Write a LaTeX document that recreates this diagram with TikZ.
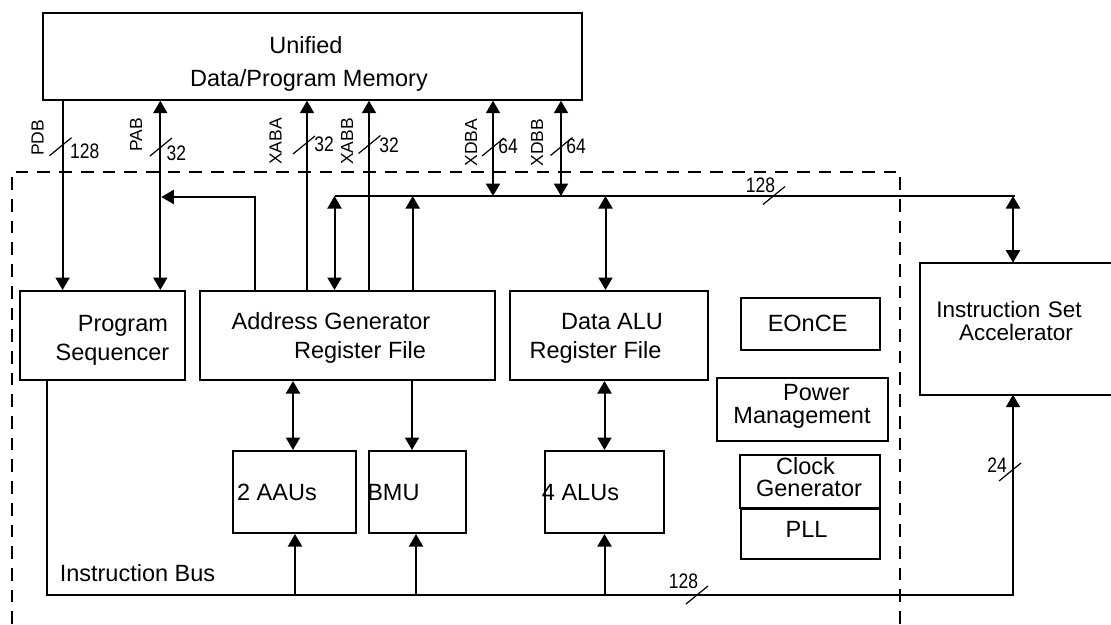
\documentclass[tikz,border=0pt]{standalone}
\usepackage{fontspec}
\setmainfont{Liberation Sans}
\usetikzlibrary{arrows.meta}
\begin{document}
\begin{tikzpicture}[x=1pt,y=-1pt,
  box/.style={draw,line width=2pt,rectangle,inner sep=0pt,anchor=north west},
  conn/.style={line width=2pt},
  arr/.style={conn,-{Triangle[length=12.5pt,width=14pt]}},
  darr/.style={conn,{Triangle[length=12.5pt,width=14pt]}-{Triangle[length=12.5pt,width=14pt]}},
  txt/.style={font=\fontsize{23.5}{28}\selectfont,inner sep=0pt,anchor=base},
  txtsm/.style={font=\fontsize{22.5}{26}\selectfont,inner sep=0pt,anchor=base},
  sig/.style={font=\fontsize{17.5}{20}\selectfont,inner sep=0pt,rotate=90},
  num/.style={font=\fontsize{17.5}{20}\selectfont,inner sep=0pt},
  slash/.style={line width=1.2pt},
  frame/.style={line width=1.8pt,dash pattern=on 12.7pt off 9pt}]
\useasboundingbox (0,0) rectangle (1111,624);

% ---------- blocks ----------
\node[box,minimum width=539.3pt,minimum height=86.7pt] (mem) at (41.7,12) {};
\node[box,minimum width=165.4pt,minimum height=89pt] (ps) at (18.6,290) {};
\node[box,minimum width=295.4pt,minimum height=89pt] (agu) at (198.6,290) {};
\node[box,minimum width=198pt,minimum height=89pt] (dalu) at (509,290) {};
\node[box,minimum width=139pt,minimum height=52pt] (eonce) at (740,297) {};
\node[box,minimum width=171pt,minimum height=63pt] (pwr) at (716,377) {};
\node[box,minimum width=140pt,minimum height=52.5pt] (clk) at (739,454) {};
\node[box,minimum width=139pt,minimum height=50pt] (pll) at (740,508) {};
\node[box,minimum width=123pt,minimum height=82pt] (aau) at (232,450) {};
\node[box,minimum width=97pt,minimum height=82pt] (bmu) at (368,450) {};
\node[box,minimum width=119pt,minimum height=82pt] (alu) at (544,450) {};
% accelerator block runs off the right edge: three sides only
\node[box,draw=none,minimum width=191pt,minimum height=130pt] (isa) at (920,262.7) {};
\draw[conn] (isa.north east) -- (isa.north west) -- (isa.south west) -- (isa.south east);

% ---------- core boundary ----------
\draw[frame] (12.3,624) -- (12.3,171.7) -- (900,171.7) -- (900,624);

% ---------- block texts ----------
\node[txt] (tmem1) at (306,53) {Unified};
\node[txt] (tmem2) at (309,86.5) {Data/Program Memory};
\node[txt] (tps1) at (122.9,331.5) {Program};
\node[txt] (tps2) at (112.5,360) {Sequencer};
\node[txt] (tag1) at (331,329.3) {Address Generator};
\node[txt] (tag2) at (360,358.3) {Register File};
\node[txt] (tda1) at (612,329) {Data ALU};
\node[txt] (tda2) at (595.5,358.3) {Register File};
\node[txt] (teo) at (807.6,331) {EOnCE};
\node[txt] (tpw1) at (816.5,400) {Power};
\node[txt] (tpw2) at (802,423.3) {Management};
\node[txt] (tck1) at (805.5,474.3) {Clock};
\node[txt] (tck2) at (809,496.7) {Generator};
\node[txt] (tpll) at (806.5,537.3) {PLL};
\node[txt] (taau) at (277,500) {2 AAUs};
\node[txt] (tbmu) at (393.4,500) {BMU};
\node[txt] (talu) at (580.5,500) {4 ALUs};
\node[txt] (tib) at (137.5,581) {Instruction Bus};
\node[txtsm] (tis1) at (1009,317.5) {Instruction\,\,Set};
\node[txtsm] (tis2) at (1016,340.5) {Accelerator};

% ---------- bus x positions ----------
\coordinate (xPDB) at (62.6,0);
\coordinate (xPAB) at (160.3,0);
\coordinate (xFEED) at (255,0);
\coordinate (xXABA) at (307,0);
\coordinate (xXABB) at (369,0);
\coordinate (xXDBA) at (493,0);
\coordinate (xXDBB) at (561,0);
\coordinate (xAGD) at (334.5,0);
\coordinate (xAGU) at (412.7,0);
\coordinate (xDA) at (605.5,0);
\coordinate (xAAU) at (293,0);
\coordinate (xBMU) at (412,0);
\coordinate (xALU) at (604.5,0);
\coordinate (xIB1) at (295,0);
\coordinate (xIB2) at (416,0);
\coordinate (xIB3) at (604.5,0);
\coordinate (busW) at (334.5,196);
\coordinate (busE) at (1014.5,196);
\coordinate (xISA) at (1013,0);
\coordinate (feed) at (161.3,197);
\coordinate (ibW) at (47,595);
\coordinate (ibE) at (1013,595);

% ---------- memory buses ----------
\draw[arr] (mem.south -| xPDB) -- (ps.north -| xPDB);
\draw[darr] (mem.south -| xPAB) -- (ps.north -| xPAB);
\draw[arr] (agu.north -| xFEED) |- (feed);
\draw[arr] (agu.north -| xXABA) -- (mem.south -| xXABA);
\draw[arr] (agu.north -| xXABB) -- (mem.south -| xXABB);
\draw[darr] (mem.south -| xXDBA) -- (xXDBA |- busW);
\draw[darr] (mem.south -| xXDBB) -- (xXDBB |- busW);

% ---------- internal data bus ----------
\draw[conn] (busW) -- (busE);
\draw[darr] (busW) -- (agu.north -| xAGD);
\draw[arr] (agu.north -| xAGU) -- (xAGU |- busW);
\draw[darr] (xDA |- busW) -- (dalu.north -| xDA);
\draw[darr] (xISA |- busW) -- (isa.north -| xISA);

% ---------- register files to units ----------
\draw[darr] (agu.south -| xAAU) -- (aau.north -| xAAU);
\draw[arr] (agu.south -| xBMU) -- (bmu.north -| xBMU);
\draw[darr] (dalu.south -| xALU) -- (alu.north -| xALU);

% ---------- instruction bus ----------
\draw[arr] (ps.south -| ibW) |- (ibE) -- (isa.south -| ibE);
\draw[arr] (xIB1 |- ibW) -- (aau.south -| xIB1);
\draw[arr] (xIB2 |- ibW) -- (bmu.south -| xIB2);
\draw[arr] (xIB3 |- ibW) -- (alu.south -| xIB3);

% ---------- signal names ----------
\node[sig] (lPDB) at (37.7,137.8) {PDB};
\node[sig] (lPAB) at (136,135) {PAB};
\node[sig] (lXABA) at (275.5,141.5) {XABA};
\node[sig] (lXABB) at (347,141.5) {XABB};
\node[sig] (lXDBA) at (471,142.8) {XDBA};
\node[sig] (lXDBB) at (537,142.8) {XDBB};

% ---------- bus widths ----------
\node[num] (wPDB) at (84.7,150.8) {\scalebox{1}[1.2]{128}};
\node[num] (wPAB) at (176.3,153) {\scalebox{1}[1.2]{32}};
\node[num] (wXABA) at (324,144.5) {\scalebox{1}[1.2]{32}};
\node[num] (wXABB) at (389,145) {\scalebox{1}[1.2]{32}};
\node[num] (wXDBA) at (508,146) {\scalebox{1}[1.2]{64}};
\node[num] (wXDBB) at (576,146) {\scalebox{1}[1.2]{64}};
\node[num] (wBUS) at (760.5,185) {\scalebox{1}[1.2]{128}};
\node[num] (wIB) at (683.4,581) {\scalebox{1}[1.2]{128}};
\node[num] (wISA) at (997,465) {\scalebox{1}[1.2]{24}};

% width marks across the buses
\coordinate (sPDB) at (60.5,146.7);
\coordinate (sPAB) at (161,147);
\coordinate (sXABA) at (304,145);
\coordinate (sXABB) at (369.5,144.5);
\coordinate (sXDBA) at (493,147);
\coordinate (sXDBB) at (561.5,146.5);
\coordinate (sBUS) at (774,195.5);
\coordinate (sIB) at (697,595);
\coordinate (sISA) at (1010,472);
\foreach \s in {sPDB,sPAB,sXABA,sXABB,sXDBA,sXDBB,sBUS,sIB,sISA}
  \draw[slash] (\s) ++(-11,9) -- ++(22,-18);
\end{tikzpicture}
\end{document}
